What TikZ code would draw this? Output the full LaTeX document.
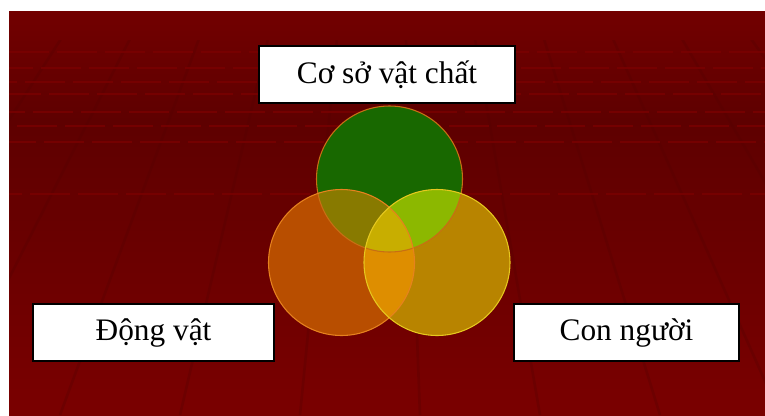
\documentclass[tikz,border=0pt]{standalone}
\usepackage{fontspec}
\setmainfont{Liberation Serif}
\usetikzlibrary{
  backgrounds,
  calc,
  positioning,
}
\definecolor{bgtop}{RGB}{114, 0, 0}
\definecolor{bgmid}{RGB}{94, 0, 0}
\definecolor{bgbottom}{RGB}{122, 0, 0}
\definecolor{gridlight}{RGB}{122, 0, 0}
\definecolor{griddark}{RGB}{84, 0, 0}
\definecolor{setgreen}{RGB}{24, 104, 0}
\definecolor{setorange}{RGB}{184, 78, 0}
\definecolor{setgold}{RGB}{184, 132, 0}
\definecolor{greenorange}{RGB}{136, 122, 0}
\definecolor{greengold}{RGB}{140, 184, 0}
\definecolor{orangegold}{RGB}{222, 142, 0}
\definecolor{allthree}{RGB}{200, 174, 0}
\tikzstyle{labelbox} = [
  draw=black,
  line width=1.3pt,
  fill=white,
  inner sep=0pt,
  minimum height=42.5pt,
  font=\fontsize{23.5}{28}\selectfont,
]
\tikzstyle{rim} = [line width=0.8pt]

\begin{document}
\begin{tikzpicture}[x=0.75pt, y=-0.75pt]

        \useasboundingbox (0,0) rectangle (765,415);

        % background
        \shade [top color=bgtop, bottom color=bgmid] (9,11) rectangle (765,120);
        \shade [top color=bgmid, bottom color=bgbottom] (9,120) rectangle (765,415);

        \begin{scope}
          \clip (9,40) rectangle (765,415);
          \foreach \xb in {-420,-300,...,1200} {
            \draw [griddark, opacity=0.3, line width=2pt] (387,-470) -- (\xb,415);
          }
          \foreach \yy/\off in {52/0,68/12,82/24,94/6,112/18,126/30,142/10,194/20} {
            \draw [gridlight, opacity=0.8, line width=1.5pt,
                   dash pattern=on 30pt off 6pt, dash phase=\off pt]
                  (9,\yy) -- (765,\yy);
          }
        \end{scope}

        % centres of the three sets
        \coordinate (top)   at (389.5,179);
        \coordinate (left)  at (341.5,262.5);
        \coordinate (right) at (437,262.5);

        \fill [setgreen]  (top)   circle (73);
        \fill [setorange] (left)  circle (73);
        \fill [setgold]   (right) circle (73);

        \begin{scope}
          \clip (left) circle (73);
          \fill [orangegold] (right) circle (73);
        \end{scope}

        \begin{scope}
          \clip (top) circle (73);
          \fill [greenorange] (left) circle (73);
          \fill [greengold] (right) circle (73);
          \clip (left) circle (73);
          \fill [allthree] (right) circle (73);
        \end{scope}

        \draw [rim, color={rgb,255:red,200;green,110;blue,20}] (top) circle (73);
        \draw [rim, color={rgb,255:red,230;green,130;blue,30}] (left) circle (73);
        \draw [rim, color={rgb,255:red,230;green,200;blue,30}] (right) circle (73);

        % labels
        \node [labelbox, minimum width=192pt] (facilities) at (387,74.5)
              {Cơ sở vật chất};

        \node [labelbox, minimum width=180.75pt] (animals) at (153.5,332.5)
              {Động vật};

        \node [labelbox, minimum width=168.75pt] (people) at (626.5,332.5)
              {Con người};

\end{tikzpicture}
\end{document}
